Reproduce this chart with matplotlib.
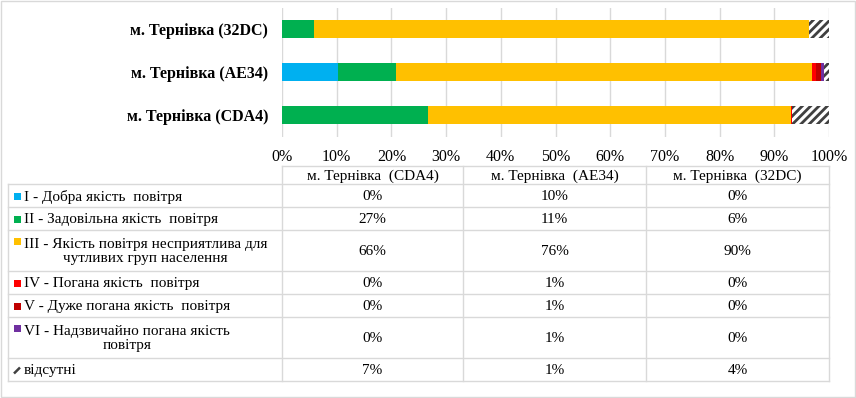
import numpy as np
import matplotlib
matplotlib.use("Agg")
import matplotlib.pyplot as plt
from matplotlib.patches import Rectangle

# Data
stations = ["м. Тернівка (CDA4)", "м. Тернівка (AE34)", "м. Тернівка (32DC)"]
table_headers = ["м. Тернівка  (CDA4)", "м. Тернівка  (AE34)", "м. Тернівка  (32DC)"]
categories = [
    "I - Добра якість  повітря",
    "II - Задовільна якість  повітря",
    "III - Якість повітря несприятлива для\nчутливих груп населення",
    "IV - Погана якість  повітря",
    "V - Дуже погана якість  повітря",
    "VI - Надзвичайно погана якість\nповітря",
    "відсутні",
]
share_cda4 = [0.0, 26.7, 66.3, 0.3, 0.0, 0.0, 6.7]
share_ae34 = [10.2, 10.6, 76.1, 0.7, 0.9, 0.6, 0.9]
share_32dc = [0.0, 5.9, 90.4, 0.0, 0.1, 0.0, 3.6]
x_ticks = [0, 10, 20, 30, 40, 50, 60, 70, 80, 90, 100]

# Style
colors = ["#00B0F0", "#00B050", "#FFC000", "#FF0000", "#C00000", "#7030A0", "white"]
HATCH_C = "#404040"
GRID_C = "#D9D9D9"
plt.rcParams.update({
    "font.family": ["Liberation Serif", "DejaVu Serif"],
    "hatch.linewidth": 2.0,
})

W, H = 856, 398
fig = plt.figure(figsize=(W / 100, H / 100), dpi=100)

# pixel canvas for table + frame
tab = fig.add_axes([0, 0, 1, 1])
tab.set_xlim(0, W)
tab.set_ylim(H, 0)
tab.axis("off")
tab.add_patch(Rectangle((0.5, 0.5), W - 1.5, H - 1.5, fill=False,
                        edgecolor=GRID_C, lw=1))

# bar chart
x0, x1 = 282, 829
y_top, y_bot = 7.5, 136.5
ax = fig.add_axes([x0 / W, 1 - y_bot / H, (x1 - x0) / W, (y_bot - y_top) / H])
data = np.array([share_cda4, share_ae34, share_32dc])
ypos = np.arange(len(stations))
left = np.zeros(len(stations))
for i in range(len(categories)):
    if i == len(categories) - 1:
        ax.barh(ypos, data[:, i], left=left, height=0.4, color="white",
                edgecolor=HATCH_C, hatch="////", lw=0, zorder=3)
    else:
        ax.barh(ypos, data[:, i], left=left, height=0.4, color=colors[i],
                lw=0, zorder=3)
    left += data[:, i]

ax.set_xlim(0, 100)
ax.set_ylim(-0.5, 2.5)
ax.set_xticks(x_ticks)
ax.set_xticklabels([f"{t}%" for t in x_ticks], fontsize=11.5)
ax.set_yticks(ypos)
ax.set_yticklabels(stations, fontsize=11.5, fontweight="bold")
ax.tick_params(length=0, axis="x", pad=9)
ax.tick_params(length=0, axis="y", pad=10)
ax.grid(axis="x", color=GRID_C, lw=1, zorder=0)
for s in ax.spines.values():
    s.set_visible(False)

# table
col_x = [282, 463, 646, 829]
row_y = [166, 184, 207, 230, 271, 294, 317, 358, 381]
lkw = dict(color=GRID_C, lw=1, zorder=1)
tab.plot([col_x[0], col_x[-1]], [row_y[0], row_y[0]], **lkw)
for y in row_y[1:]:
    tab.plot([8, col_x[-1]], [y, y], **lkw)
tab.plot([8, 8], [row_y[1], row_y[-1]], **lkw)
for x in col_x:
    tab.plot([x, x], [row_y[0], row_y[-1]], **lkw)

for j, hdr in enumerate(table_headers):
    tab.text((col_x[j] + col_x[j + 1]) / 2, (row_y[0] + row_y[1]) / 2 + 1, hdr,
             ha="center", va="center", fontsize=11)

for i, cat in enumerate(categories):
    top, bot = row_y[i + 1], row_y[i + 2]
    mid = (top + bot) / 2 + 1
    nlines = cat.count("\n") + 1
    first = top + 11.5 if nlines > 1 else mid
    if i == len(categories) - 1:
        # legend key for the hatched series: one short diagonal stroke
        tab.plot([14, 20], [first + 3, first - 3], color=HATCH_C, lw=1.8,
                 solid_capstyle="butt")
    else:
        tab.add_patch(Rectangle((14, first - 3.5), 7, 6.5, facecolor=colors[i],
                                lw=0))
    tab.text(24, mid, cat, ha="left", va="center", multialignment="center",
             fontsize=11, linespacing=1.1)
    for j in range(len(stations)):
        tab.text((col_x[j] + col_x[j + 1]) / 2, mid, f"{round(data[j, i]):.0f}%",
                 ha="center", va="center", fontsize=11)

fig.savefig("out.png", dpi=100)
